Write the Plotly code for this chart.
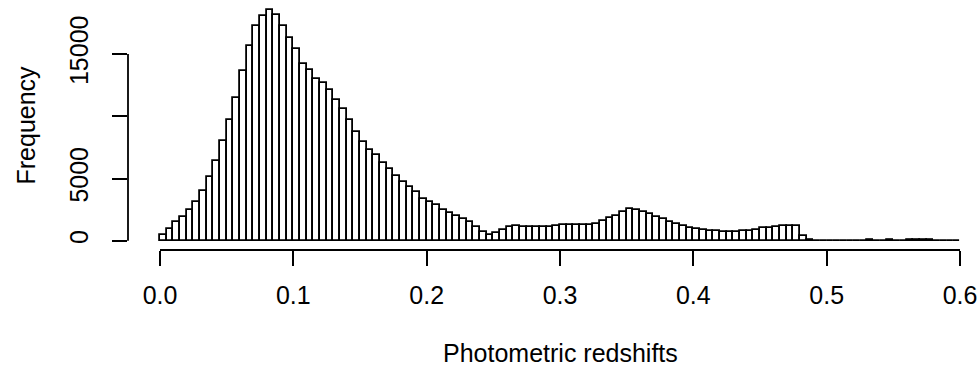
import numpy as np
import plotly.graph_objects as go

# Histogram of photometric redshifts: bins of width 0.005 from 0.0 to 0.6
bin_start = 0.0
bin_width = 0.005
counts = [
    460, 910, 1470, 1930, 2510, 3130, 4010, 5140, 6400, 8000,
    9690, 11480, 13620, 15650, 17260, 18060, 18520, 18110, 17260, 16290,
    15390, 14230, 13750, 12980, 12710, 12150, 11290, 10570, 9740, 8750,
    7950, 7280, 6930, 6260, 5800, 5190, 4740, 4330, 3880, 3350,
    3130, 2860, 2510, 2250, 1980, 1740, 1470, 1070, 700, 430,
    590, 880, 1070, 1180, 1100, 1070, 1070, 1100, 1120, 1180,
    1230, 1230, 1230, 1230, 1230, 1360, 1550, 1850, 2010, 2350,
    2540, 2510, 2330, 2170, 1930, 1740, 1520, 1360, 1200, 1040,
    910, 880, 800, 800, 670, 670, 720, 750, 800, 860,
    990, 990, 1070, 1150, 1180, 1200, 380, 100, 12, 8,
    8, 6, 6, 6, 6, 8, 25, 8, 8, 25,
    8, 20, 25, 25, 25, 25, 20, 8, 6, 6,
]
x_ticks = [0.0, 0.1, 0.2, 0.3, 0.4, 0.5, 0.6]
x_tick_labels = ["0.0", "0.1", "0.2", "0.3", "0.4", "0.5", "0.6"]
y_ticks = [0, 5000, 10000, 15000]
y_tick_labels = ["0", "5000", "", "15000"]
x_title = "Photometric redshifts"
y_title = "Frequency"

centers = bin_start + bin_width * (np.arange(len(counts)) + 0.5)

FONT = "Liberation Sans, Arial, Helvetica, sans-serif"
FS = 25
LW = 1.8

fig = go.Figure(go.Bar(
    x=centers, y=counts, width=bin_width,
    marker=dict(color="white", line=dict(color="black", width=LW)),
    hoverinfo="x+y",
))

ymax = max(counts)
ypad = 0.04 * ymax
fig.update_layout(
    width=980, height=367,
    margin=dict(l=128, r=0, t=1, b=117, pad=0),
    paper_bgcolor="white", plot_bgcolor="white",
    showlegend=False, bargap=0,
    font=dict(family=FONT, size=FS, color="black"),
    xaxis=dict(
        range=[-0.024, -0.024 + 852 / (800 / 0.6)],
        tickvals=x_ticks, ticktext=x_tick_labels,
        ticks="outside", ticklen=15, tickwidth=LW, tickcolor="black",
        showgrid=False, zeroline=False, showline=False,
        ticklabelstandoff=8,
    ),
    yaxis=dict(
        range=[-ypad, ymax + ypad],
        tickvals=y_ticks, ticktext=y_tick_labels, tickangle=-90,
        ticks="outside", ticklen=15, tickwidth=LW, tickcolor="black",
        showgrid=False, zeroline=False, showline=False,
        ticklabelstandoff=14,
    ),
    shapes=[
        dict(type="line", xref="x", yref="paper", x0=x_ticks[0], x1=x_ticks[-1],
             y0=0, y1=0, line=dict(color="black", width=LW)),
        dict(type="line", xref="paper", yref="y", x0=0, x1=0,
             y0=y_ticks[0], y1=y_ticks[-1], line=dict(color="black", width=LW)),
    ],
    annotations=[
        dict(text=x_title, xref="x", yref="paper", x=0.3, y=(250 - 353) / 249,
             xanchor="center", yanchor="middle", showarrow=False,
             font=dict(family=FONT, size=FS, color="black")),
        dict(text=y_title, xref="paper", yref="paper", x=(25 - 128) / 852, y=0.5,
             xanchor="center", yanchor="middle", textangle=-90, showarrow=False,
             font=dict(family=FONT, size=FS, color="black")),
    ],
)

fig.write_html("out.html")
